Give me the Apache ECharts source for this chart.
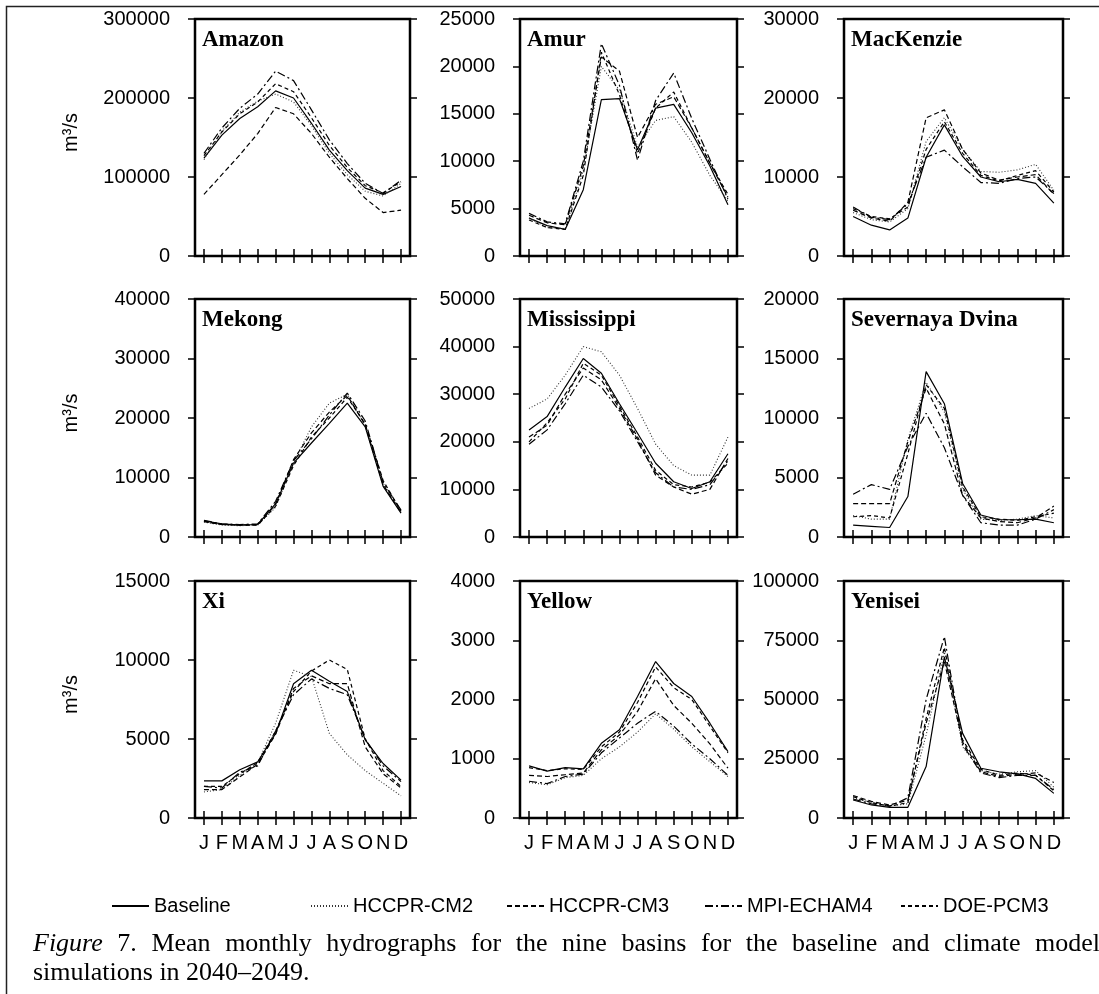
<!DOCTYPE html>
<html><head><meta charset="utf-8">
<script src="https://cdn.jsdelivr.net/npm/echarts@6/dist/echarts.min.js"></script>
<style>html,body{margin:0;padding:0;background:#fff;} #c{width:1099px;height:994px;}</style>
</head><body><div id="c"></div><script>
// ---------------- DATA ----------------
const categories = ['Jan','Feb','Mar','Apr','May','Jun','Jul','Aug','Sep','Oct','Nov','Dec'];
const monthLabels = ['J','F','M','A','M','J','J','A','S','O','N','D'];
const seriesNames = ['Baseline','HCCPR-CM2','HCCPR-CM3','MPI-ECHAM4','DOE-PCM3'];
const basinNames = ['Amazon','Amur','MacKenzie','Mekong','Mississippi','Severnaya Dvina','Xi','Yellow','Yenisei'];
const yMax  = [300000, 25000, 30000, 40000, 50000, 20000, 15000, 4000, 100000];
const yStep = [100000, 5000, 10000, 10000, 10000, 5000, 5000, 1000, 25000];
// each basin: [Baseline, HCCPR-CM2, HCCPR-CM3, MPI-ECHAM4, DOE-PCM3]
const amazon = [
  [124000,153000,174000,189000,209000,200000,168000,134000,108000,86000,78000,88000],
  [122000,158000,182000,196000,205000,195000,165000,130000,103000,82000,76000,92000],
  [78000,103000,128000,155000,188000,180000,155000,125000,98000,73000,55000,58000],
  [130000,162000,187000,205000,234000,222000,185000,147000,117000,92000,79000,96000],
  [127000,157000,180000,195000,218000,208000,175000,140000,112000,89000,80000,94000]
];
const amur = [
  [4000,3200,2800,7000,16500,16600,11200,15600,16000,13000,9500,5400],
  [4000,3000,2900,9000,20000,17500,11500,14300,14700,12000,8500,5800],
  [4300,3500,3300,9500,21000,19500,12500,16000,16800,13500,9800,6200],
  [4500,3600,3400,10000,22400,18000,10100,16400,19300,14500,10200,6000],
  [3800,3000,2800,8500,21500,17000,10800,15600,17300,13500,9800,6500]
];
const mackenzie = [
  [5000,3900,3300,4800,12500,16600,12600,10000,9400,9700,9200,6700],
  [5500,4600,4300,6000,14500,17500,13500,10700,10600,10900,11600,8300],
  [5800,4800,4400,6800,17500,18500,13500,10500,9600,10000,10300,7800],
  [6200,4900,4600,6600,12500,13400,11300,9300,9200,9800,10000,7900],
  [6000,5000,4700,6200,13500,17000,13000,10200,9500,10200,10800,8100]
];
const mekong = [
  [2700,2200,2000,2100,5600,12400,15800,19100,22500,18500,8500,4000],
  [2500,2000,1900,2000,5000,12500,18500,22500,24000,19000,9000,4200],
  [2600,2100,2000,2100,5500,13000,17500,21000,23800,18800,8800,4100],
  [2800,2200,2100,2200,6000,12800,16500,20500,24200,19500,9200,4500],
  [2600,2100,2000,2000,5200,12000,16800,20000,23500,19000,9500,4300]
];
const mississippi = [
  [22500,25300,31500,37500,34400,28000,21800,15500,11600,10200,11600,17500],
  [27000,29000,34000,40000,38900,34000,27000,19500,15000,13000,13000,21000],
  [21000,23500,30000,35500,33000,27000,20500,13000,10500,9000,10000,16500],
  [19500,22500,28000,34000,31500,26500,20000,13500,10500,10000,11000,16000],
  [20000,24000,29000,36500,34000,27500,21000,14000,11000,10500,11500,15500]
];
const severnaya = [
  [1000,900,800,3400,13900,11200,4500,1850,1450,1450,1500,1200],
  [1800,1500,1500,8200,13000,10500,4000,1500,1400,1500,1800,1600],
  [2800,2800,2800,8000,12500,9500,3500,1600,1300,1200,1600,2600],
  [3600,4400,4000,7600,10400,7500,3500,1200,1000,1000,1500,2300],
  [1700,1800,1600,7000,12800,10800,4200,1700,1500,1400,1700,2000]
];
const xi = [
  [2350,2350,3050,3550,5350,8500,9350,8650,8000,4950,3450,2400],
  [1650,1800,2700,3500,6000,9350,8950,5350,4000,3000,2200,1400],
  [1800,1800,2600,3400,5300,8200,9000,8500,8500,4500,2800,1900],
  [2000,1900,2900,3300,5500,7800,8800,8200,7800,5000,3300,2300],
  [2000,2000,2800,3500,5500,8000,9300,10000,9400,5000,3000,2000]
];
const yellow = [
  [880,790,850,830,1260,1490,2050,2640,2270,2050,1600,1120],
  [600,560,680,720,1000,1200,1450,1760,1500,1200,950,700],
  [720,700,730,760,1150,1400,1800,2350,1900,1600,1250,840],
  [620,580,700,740,1100,1350,1600,1800,1550,1250,1000,720],
  [850,800,830,820,1200,1450,1950,2550,2200,2000,1550,1100]
];
const yenisei = [
  [7600,5500,4500,4500,21700,68000,35700,21000,19500,18600,16700,10400],
  [8500,6500,5000,6000,35000,70000,30000,20000,18500,19500,20000,13000],
  [9500,7000,5500,7500,40000,66000,32000,19500,17500,18500,19000,15000],
  [8000,6000,5000,8500,50000,76500,31000,19000,17000,18000,18000,12000],
  [9000,6500,5000,6500,42000,72000,33000,20500,18000,19000,18000,11500]
];
const basins = [amazon, amur, mackenzie, mekong, mississippi, severnaya, xi, yellow, yenisei];
const captionLine1 = ['Figure','7.','Mean','monthly','hydrographs','for','the','nine','basins','for','the','baseline','and','climate','model'];
const captionLine2 = 'simulations in 2040\u20132049.';
const yUnit = 'm\u00b3/s';

// ---------------- LAYOUT / STYLE ----------------
const colLeft = [195, 520, 844];
const colWidth = [215, 217, 219];
const rowTop = [19, 299, 581];
const rowHeight = [237, 238, 237];
const lineTypes = ['solid', [1, 2], [5, 3], [8, 3, 2, 3], [4, 3]];
const lineColors = ['#000', '#333', '#000', '#000', '#000'];
const SANS = 'Liberation Sans, Arial, Helvetica, sans-serif';
const SERIF = 'Liberation Serif, Times New Roman, serif';
const legendLeft = [111, 310, 506, 704, 900];
const capFont = 26, capX0 = 33, capX1 = 1100;

const chart = echarts.init(document.getElementById('c'), null, {renderer: 'canvas'});
const grid = [], xAxis = [], yAxis = [], series = [], title = [];
const tick = {show: true, length: 7, lineStyle: {color: '#000', width: 1.5}};
basins.forEach((b, i) => {
  const r = Math.floor(i / 3), c = i % 3;
  grid.push({left: colLeft[c], top: rowTop[r], width: colWidth[c], height: rowHeight[r],
    show: true, borderColor: '#000', borderWidth: 2.5, backgroundColor: 'transparent'});
  xAxis.push({type: 'category', gridIndex: i, data: categories, boundaryGap: true,
    axisLine: {show: false}, axisTick: Object.assign({alignWithLabel: true, interval: 0}, tick),
    axisLabel: {show: r === 2, interval: 0, formatter: (v, k) => monthLabels[k], fontFamily: SANS, fontSize: 20, color: '#000', margin: 15},
    splitLine: {show: false}});
  yAxis.push({type: 'value', gridIndex: i, min: 0, max: yMax[i], interval: yStep[i],
    axisLine: {show: false}, axisTick: tick,
    axisLabel: {fontFamily: SANS, fontSize: 20, color: '#000', margin: 25, formatter: v => String(v)},
    splitLine: {show: false}});
  title.push({text: basinNames[i], left: colLeft[c] + 7, top: rowTop[r] + 10, padding: 0,
    textStyle: {fontFamily: SERIF, fontWeight: 'bold', fontSize: 23, color: '#000'}});
  b.forEach((vals, s) => {
    series.push({name: seriesNames[s], type: 'line', xAxisIndex: i, yAxisIndex: i, data: vals,
      symbol: 'none', silent: true, animation: false,
      lineStyle: {color: lineColors[s], width: s === 1 ? 1.1 : 1.2, type: lineTypes[s]},
      itemStyle: {color: lineColors[s]}});
  });
});
// secondary (top / right) axes for outward ticks on all four sides
basins.forEach((b, i) => {
  xAxis.push({type: 'category', gridIndex: i, data: categories, boundaryGap: true, position: 'top',
    axisLine: {show: false}, axisTick: Object.assign({alignWithLabel: true, interval: 0}, tick),
    axisLabel: {show: false}, splitLine: {show: false}});
  yAxis.push({type: 'value', gridIndex: i, min: 0, max: yMax[i], interval: yStep[i], position: 'right',
    axisLine: {show: false}, axisTick: tick, axisLabel: {show: false}, splitLine: {show: false}});
});

const legend = seriesNames.map((nm, k) => ({
  data: [nm], left: legendLeft[k], top: 896, itemWidth: 37, itemHeight: 12, padding: 0,
  selectedMode: false,
  textStyle: {fontFamily: SANS, fontSize: 20, color: '#000'},
  itemStyle: {color: 'rgba(0,0,0,0)', borderWidth: 0}
}));

const graphics = [];
graphics.push({type: 'rect', left: 4, top: 4, shape: {x: 0, y: 0, width: 1200, height: 1200},
  style: {fill: 'none', stroke: '#222', lineWidth: 1.5}, silent: true});
rowTop.forEach((t, r) => {
  graphics.push({type: 'text', x: 71, y: t + rowHeight[r] / 2 - 5, rotation: Math.PI / 2,
    style: {text: yUnit, fontFamily: SANS, fontSize: 20, fill: '#000', textAlign: 'center', textVerticalAlign: 'middle'}});
});
// justified caption line 1
const ctx = document.createElement('canvas').getContext('2d');
const widths = captionLine1.map((w, k) => {
  ctx.font = (k === 0 ? 'italic ' : '') + capFont + 'px ' + SERIF;
  return ctx.measureText(w).width;
});
const total = widths.reduce((a, b) => a + b, 0);
const gap = (capX1 - capX0 - total) / (captionLine1.length - 1);
let cx = capX0;
captionLine1.forEach((w, k) => {
  graphics.push({type: 'text', x: cx, y: 944,
    style: {text: w, fontFamily: SERIF, fontSize: capFont, fontStyle: k === 0 ? 'italic' : 'normal', fill: '#000', textVerticalAlign: 'middle'}});
  cx += widths[k] + gap;
});
graphics.push({type: 'text', x: capX0, y: 973,
  style: {text: captionLine2, fontFamily: SERIF, fontSize: capFont, fill: '#000', textVerticalAlign: 'middle'}});

chart.setOption({
  animation: false, backgroundColor: '#fff',
  grid, xAxis, yAxis, series, title, legend, graphic: graphics
});
</script></body></html>
